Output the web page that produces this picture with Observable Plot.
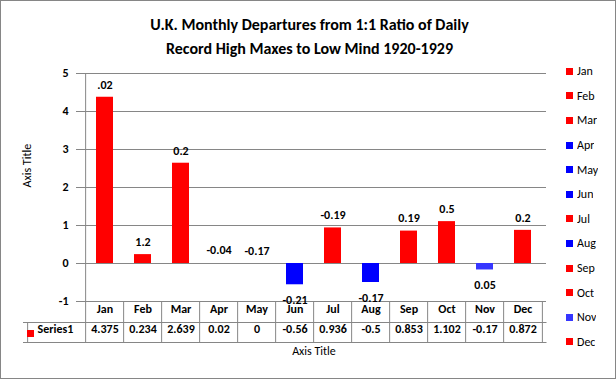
<!DOCTYPE html>
<html><head><meta charset="utf-8">
<script src="https://cdn.jsdelivr.net/npm/d3@7"></script>
<script src="https://cdn.jsdelivr.net/npm/@observablehq/plot@0.6"></script>
<style>
body{margin:0;background:#fff;}
#chart{position:relative;width:616px;height:379px;outline:1px solid #868686;outline-offset:-1px;}
#chart > svg{position:absolute;left:0;top:0;}
#chart g[aria-label="y-axis tick"] path, #chart g[aria-label="y-axis"] .tick line{stroke:#868686;}
.lg-swatches{position:absolute;left:566px;top:59px;margin:0;font:12px Carlito, Lato, sans-serif;color:#000;}
.lg-swatch{display:flex;align-items:center;height:24.6px;padding-bottom:0 !important;}
.lg-swatch > svg{margin-right:4px !important;flex-shrink:0;}
</style></head><body><div id="chart"></div>
<script>
const months = ["Jan","Feb","Mar","Apr","May","Jun","Jul","Aug","Sep","Oct","Nov","Dec"];
const values = [4.375,0.234,2.639,0.02,0,-0.56,0.936,-0.5,0.853,1.102,-0.17,0.872];
const dataLabels = [".02","1.2","0.2","-0.04","-0.17","-0.21","-0.19","-0.17","0.19","0.5","0.05","0.2"];
const monthColors = ["#ff0000","#ff0000","#ff0000","#0000ff","#0000ff","#0000ff","#ff0000","#0000ff","#ff0000","#ff0000","#3636ff","#ff0000"];
const yTicks = [-1,0,1,2,3,4,5];
const seriesName = "Series1";
const titleLines = ["U.K. Monthly Departures from 1:1 Ratio of Daily","Record High Maxes to Low Mind 1920-1929"];
const xAxisTitle = "Axis Title";
const yAxisTitle = "Axis Title";

const data = months.map((m, i) => ({month: m, value: values[i], label: dataLabels[i]}));

const W = 616, H = 379, mL = 81, mR = 70, mT = 73, mB = 78;
const half = (W - mL - mR) / months.length / 2;
const font = "Carlito, Lato, sans-serif";
const grid = "#868686";

const plot = Plot.plot({
  width: W, height: H,
  marginLeft: mL, marginRight: mR, marginTop: mT, marginBottom: mB,
  style: {fontFamily: font, fontSize: "12px", fontWeight: "bold", color: "#000", background: "transparent"},
  x: {domain: months, paddingInner: 0.56, paddingOuter: 0.28, axis: null},
  y: {domain: [-1, 5], ticks: yTicks, tickSize: 5, tickPadding: 8, label: null, tickFormat: d => String(d)},
  color: {type: "ordinal", domain: months, range: monthColors},
  marks: [
    Plot.ruleY(yTicks, {stroke: grid}),
    // bars thinner than a pixel are not visible in the reference
    Plot.barY(data.filter(d => Math.abs(d.value) > 0.05), {x: "month", y: "value", fill: "month"}),
    Plot.text(data.filter(d => d.value >= 0), {x: "month", y: "value", text: "label", dy: -12.5}),
    Plot.text(data.filter(d => d.value < 0), {x: "month", y: "value", text: "label", dy: 15.5}),
    // table grid
    Plot.ruleX(["Jan"], {x: d => d, dx: -half, stroke: grid, insetBottom: -41}),
    Plot.ruleX(months.slice(1), {x: d => d, dx: -half, y1: -1, y2: -1, insetBottom: -41, stroke: grid}),
    Plot.ruleX(["Dec"], {x: d => d, dx: half, y1: -1, y2: -1, insetBottom: -41, stroke: grid}),
    Plot.ruleX(["Jan"], {x: d => d, dx: -half - 58, y1: -1, y2: -1, insetTop: 21, insetBottom: -41, stroke: grid}),
    Plot.ruleY([-1], {dy: 21, insetLeft: -58, insetRight: -0.5, stroke: grid}),
    Plot.ruleY([-1], {dy: 41, insetLeft: -58, insetRight: -0.5, stroke: grid}),
    Plot.text(months, {x: d => d, frameAnchor: "bottom", dy: 11}),
    Plot.text(data, {x: "month", text: d => String(d.value), frameAnchor: "bottom", dy: 31}),
    Plot.dot([seriesName], {frameAnchor: "bottom-left", symbol: "square", r: 3.95, fill: "#ff0000", stroke: null, dx: -51, dy: 32}),
    Plot.text([seriesName], {frameAnchor: "bottom-left", textAnchor: "start", dx: -44, dy: 31}),
    // titles
    Plot.text([titleLines.join("\n")], {frameAnchor: "top", lineAnchor: "middle", dx: -4.5, dy: -39.5, fontSize: 16, lineHeight: 1.56}),
    Plot.text([xAxisTitle], {frameAnchor: "bottom", dy: 53, fontWeight: "normal"}),
    Plot.text([yAxisTitle], {frameAnchor: "left", rotate: -90, dx: -54, fontWeight: "normal"})
  ]
});
const chart = document.getElementById("chart");
chart.appendChild(plot);
const lg = plot.legend("color", {legend: "swatches", columns: 1, swatchSize: 7, className: "lg"});
chart.appendChild(lg);
</script>
</body></html>
